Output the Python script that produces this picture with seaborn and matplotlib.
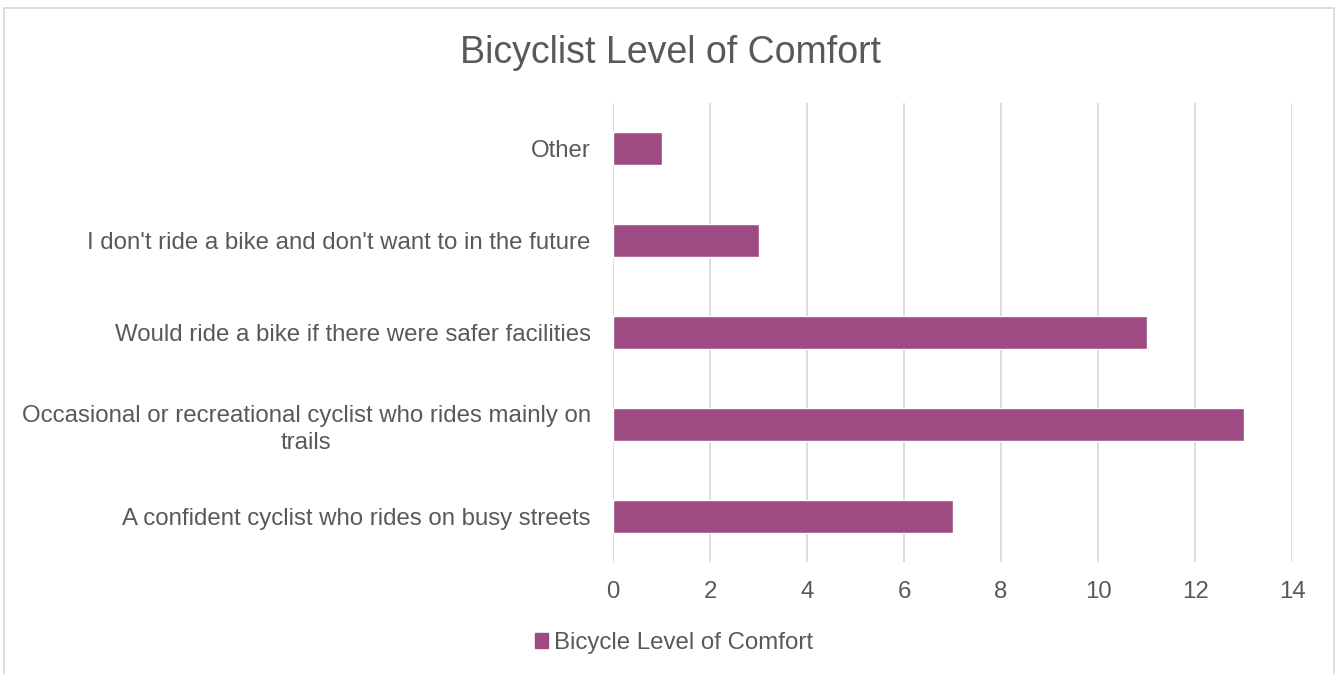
import matplotlib
matplotlib.use("Agg")
import matplotlib.pyplot as plt
import matplotlib.patches as mpatches
import pandas as pd
import seaborn as sns

# data
categories = [
    "Other",
    "I don't ride a bike and don't want to in the future",
    "Would ride a bike if there were safer facilities",
    "Occasional or recreational cyclist who rides mainly on\ntrails",
    "A confident cyclist who rides on busy streets",
]
counts = [1, 3, 11, 13, 7]
x_ticks = [0, 2, 4, 6, 8, 10, 12, 14]
series_name = "Bicycle Level of Comfort"
title = "Bicyclist Level of Comfort"

bar_color = "#9E4A83"
text_color = "#595959"
grid_color = "#D9D9D9"

sns.set_style("white")
plt.rcParams['font.family'] = ['Liberation Sans', 'DejaVu Sans']

df = pd.DataFrame({"category": categories, "count": counts})

fig = plt.figure(figsize=(13.35, 6.74), dpi=100)
ax = fig.add_axes([0.4592, 0.1662, 0.5086, 0.681])

sns.barplot(data=df, x="count", y="category", orient="h", color=bar_color,
            width=0.36, saturation=1, ax=ax)

ax.set_xlim(0, 14)
ax.set_ylim(4.5, -0.5)
ax.set_xticks(x_ticks)
ax.set_xlabel("")
ax.set_ylabel("")
ax.grid(axis="x", color=grid_color, linewidth=1.3)
ax.set_axisbelow(True)
for s in ax.spines.values():
    s.set_visible(False)
ax.tick_params(axis="both", length=0, colors=text_color, labelsize=17.3)
ax.tick_params(axis="x", pad=14)
ax.tick_params(axis="y", pad=16)
for lbl in ax.get_yticklabels():
    lbl.set_multialignment("center")
    lbl.set_linespacing(1.3)

fig.text(0.502, 0.921, title, ha="center", va="center", fontsize=27, color=text_color)

handle = mpatches.Patch(color=bar_color, label=series_name)
fig.legend(handles=[handle], loc="center", bbox_to_anchor=(0.505, 0.046), frameon=False,
           fontsize=17.3, labelcolor=text_color, handlelength=0.55, handleheight=0.55,
           handletextpad=0.25)

# outer chart frame
frame = mpatches.Rectangle((4 / 1335, -0.02), 1329.5 / 1335, 1 - 8 / 674 + 0.02,
                           transform=fig.transFigure, fill=False,
                           edgecolor=grid_color, linewidth=1.3)
fig.patches.append(frame)

fig.savefig("out.png", dpi=100)
